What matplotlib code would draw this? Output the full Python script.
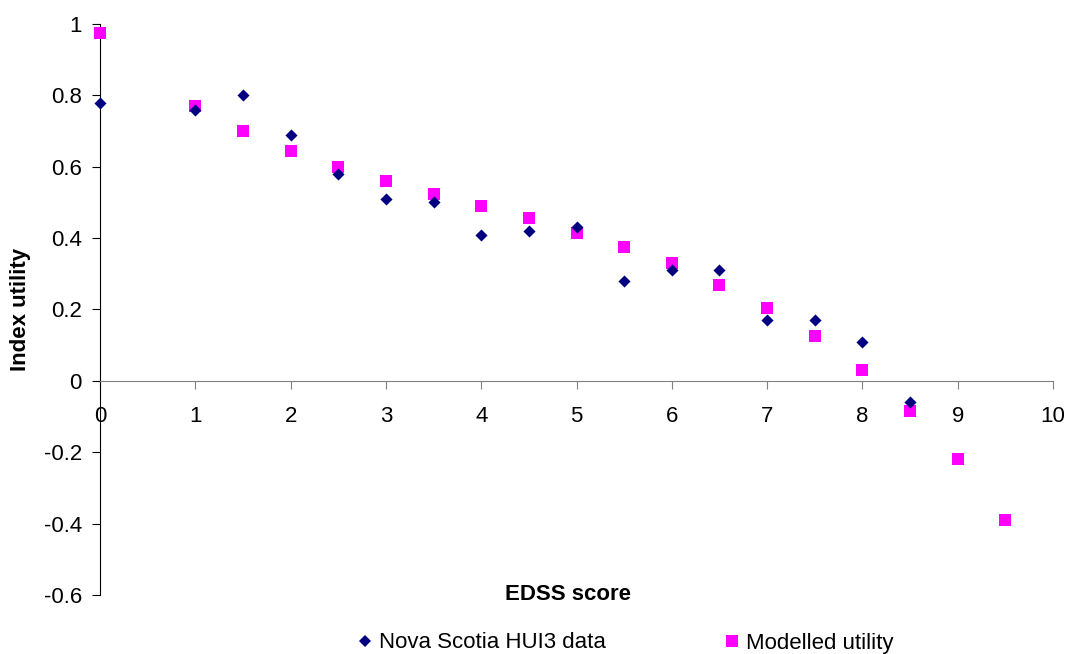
import matplotlib
matplotlib.use("Agg")
import matplotlib.pyplot as plt
from matplotlib.lines import Line2D

plt.rcParams['font.family'] = ['Liberation Sans', 'DejaVu Sans']

ns_x = [0, 1, 1.5, 2, 2.5, 3, 3.5, 4, 4.5, 5, 5.5, 6, 6.5, 7, 7.5, 8, 8.5]
ns_y = [0.78, 0.76, 0.80, 0.69, 0.58, 0.51, 0.50, 0.41, 0.42, 0.43, 0.28, 0.31, 0.31, 0.17, 0.17, 0.11, -0.06]

mod_x = [0, 1, 1.5, 2, 2.5, 3, 3.5, 4, 4.5, 5, 5.5, 6, 6.5, 7, 7.5, 8, 8.5, 9, 9.5]
mod_y = [0.975, 0.77, 0.70, 0.645, 0.60, 0.56, 0.525, 0.49, 0.455, 0.415, 0.375, 0.33, 0.27, 0.205, 0.125, 0.03, -0.085, -0.22, -0.39]

x_ticks = list(range(0, 11))
y_ticks = [-0.6, -0.4, -0.2, 0, 0.2, 0.4, 0.6, 0.8, 1]
y_tick_labels = ['-0.6', '-0.4', '-0.2', '0', '0.2', '0.4', '0.6', '0.8', '1']

fig = plt.figure(figsize=(10.68, 6.54), dpi=100)
ax = fig.add_axes([100/1068, 1-595/654, (1053-100)/1068, (595-24)/654])

ax.scatter(mod_x, mod_y, marker='s', s=80, color='#FF00FF', zorder=3, linewidths=0, clip_on=False)
ax.scatter(ns_x, ns_y, marker='D', s=38, color='#000080', zorder=4, linewidths=0, clip_on=False)

ax.set_xlim(0, 10)
ax.set_ylim(-0.6, 1)

ax.spines['top'].set_visible(False)
ax.spines['right'].set_visible(False)
ax.spines['bottom'].set_position(('data', 0))
ax.spines['bottom'].set_color('#808080')
ax.spines['left'].set_color('black')

ax.set_xticks(x_ticks)
ax.set_xticklabels([str(v) for v in x_ticks], fontsize=16)
ax.set_yticks(y_ticks)
ax.set_yticklabels(y_tick_labels, fontsize=16)
ax.tick_params(axis='x', direction='out', length=6, color='#808080', pad=12)
ax.tick_params(axis='y', direction='out', length=6, color='black', pad=7)

fig.text(21/1068, 1-309/654, 'Index utility', rotation=90, ha='center', va='center',
         fontsize=16, fontweight='bold')
fig.text(568/1068, 1-595/654, 'EDSS score', ha='center', va='center',
         fontsize=16, fontweight='bold')

handles = [Line2D([], [], marker='D', color='#000080', linestyle='None', markersize=6, markeredgewidth=0),
           Line2D([], [], marker='s', color='#FF00FF', linestyle='None', markersize=8.5, markeredgewidth=0)]
fig.legend(handles, ['Nova Scotia HUI3 data', 'Modelled utility'], ncol=2, loc='center',
           bbox_to_anchor=(626.5/1068, 1-643/654), frameon=False, fontsize=16,
           handlelength=0.5, handletextpad=0.35, columnspacing=5.45)

fig.savefig('out.png', dpi=100)
